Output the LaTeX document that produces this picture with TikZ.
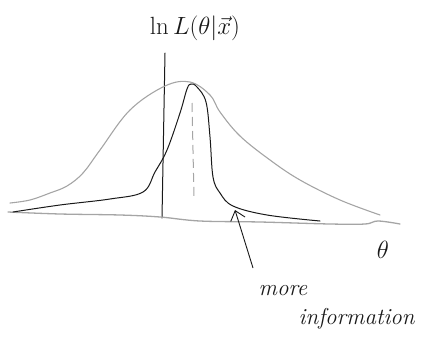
\documentclass[tikz,border=0pt]{standalone}
\usepackage{amsmath}
\usetikzlibrary{arrows.meta, positioning}
\definecolor{pencilgray}{RGB}{165,165,165}
\definecolor{inkblack}{RGB}{25,25,25}

\begin{document}
\begin{tikzpicture}[
    x=1pt, y=-1pt,
    broad/.style={pencilgray, line width=1.1pt, line cap=round},
    narrow/.style={inkblack, line width=1pt, line cap=round},
    axisline/.style={pencilgray, line width=1.3pt, line cap=round},
    label/.style={inkblack, font=\fontsize{26}{30}\selectfont},
    arrow/.style={-{Straight Barb[length=9pt, width=15pt]}, inkblack, line width=0.9pt}
]
\useasboundingbox (0,0) rectangle (435,345);

% Labels
\node[label] (lnL) at (195,28) {$\ln L(\theta|\vec{x})$};
\node[label] (theta) at (383,250) {$\theta$};
\node[label, font=\fontsize{23}{27}\selectfont\itshape] (more) at (283,291) {more};
\node[label, font=\fontsize{23}{27}\selectfont\itshape, anchor=west]
    (info) at ([xshift=40pt, yshift=-28pt]more.west) {information};

% Axes
\coordinate (vtop) at (165,53);
\coordinate (vbot) at (162,218);
\draw[narrow] (vtop) -- (vbot);
\draw[axisline] plot[smooth, tension=0.6] coordinates {
    (8,212) (60,214) (120,215) (160,217) (200,221) (260,222)
    (330,224) (365,224) (378,221) (400,224)};

% Broad likelihood
\draw[broad] plot[smooth, tension=0.6] coordinates {
    (10,203) (30,200) (50,193) (67,186) (83,173) (100,150) (130,110)
    (165,86) (190,82) (210,95) (220,112) (240,136) (270,160)
    (300,180) (340,200) (380,215)};

% Narrow likelihood
\draw[narrow] plot[smooth, tension=0.6] coordinates {
    (13,212) (60,205) (110,199) (143,192) (155,172) (167,150)
    (180,113) (187,89) (191,84) (197,87) (206,102) (210,137)
    (213,177) (220,193) (233,206) (267,215) (320,221)};

% Peak position
\coordinate (ptop) at (192,103);
\coordinate (pbot) at (194,198);
\draw[pencilgray, line width=1pt, dash pattern=on 9pt off 5pt] (ptop) -- (pbot);

% Pointer
\coordinate (tail) at (253,268);
\coordinate (tip) at (235,210);
\draw[arrow] (tail) -- (tip);
\end{tikzpicture}
\end{document}
